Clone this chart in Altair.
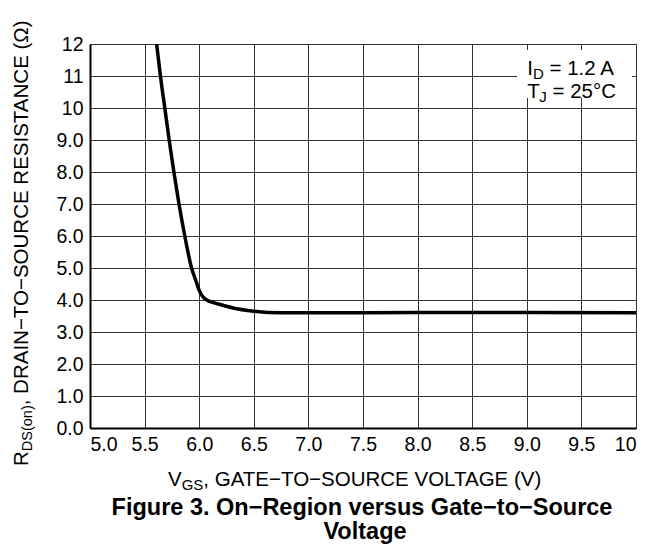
import altair as alt
import pandas as pd

# Curve: VGS (V) vs RDS(on) (ohm)
vgs = [5.61, 5.645, 5.685, 5.725, 5.768, 5.815, 5.868, 5.93, 5.97, 6.0, 6.03, 6.07,
       6.13, 6.2, 6.3, 6.5, 6.75, 7.0, 8.0, 9.0, 10.0]
rds = [12.0, 11.0, 10.0, 9.0, 8.0, 7.0, 6.0, 5.0, 4.6, 4.3, 4.12, 4.0,
       3.92, 3.85, 3.76, 3.65, 3.6, 3.6, 3.61, 3.61, 3.6]

x_ticks = [5.0, 5.5, 6.0, 6.5, 7.0, 7.5, 8.0, 8.5, 9.0, 9.5, 10.0]
y_ticks = [0, 1, 2, 3, 4, 5, 6, 7, 8, 9, 10, 11, 12]

x_title_main = "V"
x_title_sub = "GS"
x_title_rest = ", GATE\u2212TO\u2212SOURCE VOLTAGE (V)"
y_title_main = "R"
y_title_sub = "DS(on)"
y_title_rest = ", DRAIN\u2212TO\u2212SOURCE RESISTANCE (\u03a9)"
caption1 = "Figure 3. On\u2212Region versus Gate\u2212to\u2212Source"
caption2 = "Voltage"
cond1 = ("I", "D", "= 1.2 A")
cond2 = ("T", "J", "= 25\u00b0C")

FONT = "Liberation Sans, Arial, Helvetica, sans-serif"
W, H = 546, 384

df = pd.DataFrame({"vgs": vgs, "rds": rds})

xscale = alt.Scale(domain=[5, 10], nice=False, zero=False)
yscale = alt.Scale(domain=[0, 12], nice=False, zero=False)

TICK = 19.5

curve = alt.Chart(df).mark_line(
    color="black", strokeWidth=3.5, interpolate="monotone", clip=True
).encode(
    x=alt.X("vgs:Q", scale=xscale,
            axis=alt.Axis(values=x_ticks, title=None, grid=True, ticks=False,
                          labelExpr="datum.value == 10 ? '10' : format(datum.value, '.1f')",
                          labelFontSize=TICK, labelPadding=7, labelColor="black",
                          labelFont=FONT, gridColor="#333", gridWidth=1,
                          domainColor="black", domainWidth=2)),
    y=alt.Y("rds:Q", scale=yscale,
            axis=alt.Axis(values=y_ticks, title=None, grid=True, ticks=False,
                          labelExpr="datum.value >= 10 ? format(datum.value, 'd') : format(datum.value, '.1f')",
                          labelFontSize=TICK, labelPadding=7, labelColor="black",
                          labelFont=FONT, gridColor="#333", gridWidth=1,
                          domainColor="black", domainWidth=2)),
)

one = pd.DataFrame({"k": [0]})


def txt(s, x, y, size, angle=0, align="left", bold=False, baseline="alphabetic"):
    return alt.Chart(one).mark_text(
        text=s, font=FONT, fontSize=size, angle=angle, align=align,
        baseline=baseline, color="black", fontWeight="bold" if bold else "normal"
    ).encode(x=alt.value(x), y=alt.value(y))


# white box behind the conditions
box = alt.Chart(one).mark_rect(color="white").encode(
    x=alt.value(427), x2=alt.value(542), y=alt.value(6), y2=alt.value(54)
)

layers = [curve, box]

# conditions text
LS = 20.5
SS = 15
lx = 437.3
sp = 0.278 * LS
layers += [
    txt(cond1[0], lx, 30.5, LS),
    txt(cond1[1], lx + 0.278 * LS, 34.5, SS),
    txt(cond1[2], lx + 0.278 * LS + 0.722 * SS + sp, 30.5, LS),
    txt(cond2[0], lx, 54, LS),
    txt(cond2[1], lx + 0.611 * LS - 0.5, 58, SS),
    txt(cond2[2], lx + 0.611 * LS - 0.5 + 0.5 * SS + sp, 54, LS),
]

# x axis title
XS = 20.5
XSS = 15
x0 = 78
layers += [
    txt(x_title_main, x0, 442, XS),
    txt(x_title_sub, x0 + 0.667 * XS, 446, XSS),
    txt(x_title_rest, x0 + 0.667 * XS + 1.445 * XSS, 442, XS),
]

# y axis title (rotated)
YS = 20.5
YSS = 14.5
y0 = 422
YB = -62.5
layers += [
    txt(y_title_main, YB, y0, YS, angle=270),
    txt(y_title_sub, YB + 4, y0 - 0.722 * YS, YSS, angle=270),
    txt(y_title_rest, YB, y0 - 0.722 * YS - 3.167 * YSS, YS, angle=270),
]

# caption
layers += [
    txt(caption1, 272, 471, 23.5, align="center", bold=True),
    txt(caption2, 275, 494.5, 23.5, align="center", bold=True),
]

chart = alt.layer(*layers).properties(
    width=W, height=H,
    padding={"left": 82, "top": 36, "right": 3, "bottom": 116},
    autosize=alt.AutoSizeParams(type="none"),
).configure_view(stroke="#333", strokeWidth=1).configure(background="white")

chart.save("out.html", embed_options={"renderer": "svg", "actions": False})
